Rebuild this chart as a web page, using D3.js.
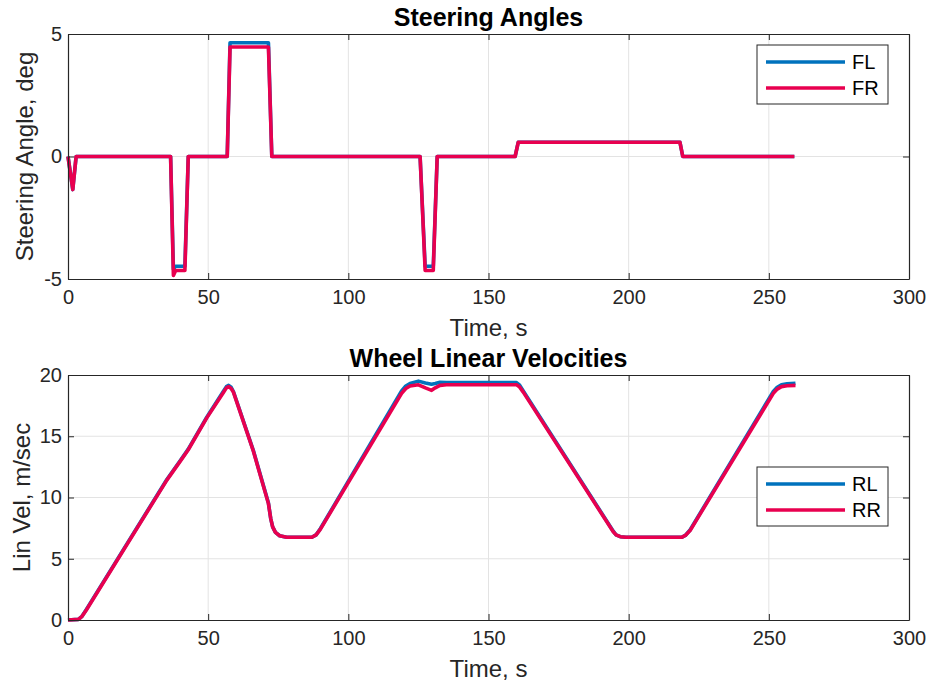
<!DOCTYPE html>
<html>
<head>
<meta charset="utf-8">
<script src="https://cdn.jsdelivr.net/npm/d3@7"></script>
<style>
  body { margin: 0; background: #fff; }
  svg { display: block; font-family: "Liberation Sans", Arial, sans-serif; }
</style>
</head>
<body>
<div id="chart"></div>
<script>
// steering angles (deg)
var steerT  = [0, 1.7, 2.9, 36.6, 37.6, 38.4, 41.7, 42.9, 56.8, 57.8, 71.5, 72.7, 125.6, 127.4, 130.3, 131.7, 159.5, 160.6, 218.3, 219.3, 259.1];
var steerFL = [0, -1.35, 0, 0, -4.6, -4.48, -4.48, 0, 0, 4.64, 4.64, 0, 0, -4.48, -4.48, 0, 0, 0.58, 0.58, 0, 0];
var steerFR = [0, -1.35, 0, 0, -4.86, -4.65, -4.65, 0, 0, 4.47, 4.47, 0, 0, -4.65, -4.65, 0, 0, 0.58, 0.58, 0, 0];

// wheel linear velocities (m/sec)
var velT  = [0, 3.7, 5, 6.5, 35.2, 40, 42.9, 49.5, 55.5, 56.5, 57.3, 58.2, 59, 66.1, 71.5, 72.3, 73, 74, 75.5, 78, 87, 88.5, 90,
             119, 120.5, 122, 125, 127.5, 129.7, 131, 132.7, 135, 160, 161, 162.4, 194.5, 195.5, 197, 199, 218.9, 220.2, 221.9,
             251.6, 253, 254.5, 256.5, 259.5];
var velRL = [0, 0.05, 0.3, 0.85, 11.45, 13.0, 13.95, 16.55, 18.7, 19.05, 19.15, 19.0, 18.65, 13.85, 9.55, 8.3, 7.6, 7.15, 6.88, 6.75, 6.75, 6.95, 7.45,
             18.7, 19.1, 19.3, 19.5, 19.35, 19.25, 19.3, 19.4, 19.38, 19.38, 19.2, 18.7, 7.25, 6.95, 6.8, 6.75, 6.75, 6.9, 7.35,
             18.65, 19.0, 19.2, 19.28, 19.32];
var velRR = [0, 0.05, 0.3, 0.8, 11.4, 12.95, 13.9, 16.5, 18.6, 18.95, 19.05, 18.9, 18.6, 13.8, 9.5, 8.3, 7.6, 7.15, 6.88, 6.75, 6.75, 6.95, 7.4,
             18.5, 18.9, 19.1, 19.2, 18.95, 18.75, 18.95, 19.15, 19.2, 19.2, 19.05, 18.6, 7.2, 6.95, 6.8, 6.75, 6.75, 6.9, 7.3,
             18.5, 18.85, 19.05, 19.12, 19.15];

var xTicks = [0, 50, 100, 150, 200, 250, 300];
var steerTicks = [-5, 0, 5];
var velTicks = [0, 5, 10, 15, 20];

var W = 930, H = 683;
var left = 68, right = 909;
var blue = "#0072bd", red = "#e8004f", ink = "#262626", gridColor = "#e3e3e3";

var svg = d3.select("#chart").append("svg")
  .attr("width", W)
  .attr("height", H);

function zip(t, v) {
  return t.map(function (d, i) { return [d, v[i]]; });
}

function drawPanel(opt) {
  var x = d3.scaleLinear().domain([0, 300]).range([left, right]);
  var y = d3.scaleLinear().domain(opt.yDomain).range([opt.bottom, opt.top]);
  var g = svg.append("g");

  // grid
  g.append("g").selectAll("line")
    .data(xTicks.slice(1, -1))
    .enter().append("line")
    .attr("x1", x).attr("x2", x)
    .attr("y1", opt.top).attr("y2", opt.bottom)
    .attr("stroke", gridColor).attr("stroke-width", 1);
  g.append("g").selectAll("line")
    .data(opt.yTicks.slice(1, -1))
    .enter().append("line")
    .attr("y1", y).attr("y2", y)
    .attr("x1", left).attr("x2", right)
    .attr("stroke", gridColor).attr("stroke-width", 1);

  // series
  var line = d3.line()
    .x(function (d) { return x(d[0]); })
    .y(function (d) { return y(d[1]); });
  opt.series.forEach(function (s) {
    g.append("path")
      .datum(zip(opt.t, s.values))
      .attr("fill", "none")
      .attr("stroke", s.color)
      .attr("stroke-width", 3.6)
      .attr("stroke-linejoin", "round")
      .attr("d", line);
  });

  // axes, ticks inward on all four sides
  var fmt = function (d) { return String(d); };
  g.append("g")
    .attr("transform", "translate(0," + opt.bottom + ")")
    .call(d3.axisBottom(x).tickValues(xTicks).tickSizeInner(-6).tickSizeOuter(0).tickPadding(11).tickFormat(fmt));
  g.append("g")
    .attr("transform", "translate(0," + opt.top + ")")
    .call(d3.axisTop(x).tickValues(xTicks).tickSizeInner(-6).tickSizeOuter(0).tickFormat(""));
  g.append("g")
    .attr("transform", "translate(" + left + ",0)")
    .call(d3.axisLeft(y).tickValues(opt.yTicks).tickSizeInner(-6).tickSizeOuter(0).tickPadding(6).tickFormat(fmt));
  g.append("g")
    .attr("transform", "translate(" + right + ",0)")
    .call(d3.axisRight(y).tickValues(opt.yTicks).tickSizeInner(-6).tickSizeOuter(0).tickFormat(""));

  g.selectAll(".domain").attr("stroke", ink).attr("stroke-width", 1.2);
  g.selectAll(".tick line").attr("stroke", ink).attr("stroke-width", 1);
  g.selectAll(".tick text")
    .attr("fill", ink)
    .attr("font-size", "20px")
    .attr("font-family", "'Liberation Sans', Arial, sans-serif");

  // title and labels
  g.append("text")
    .attr("x", (left + right) / 2)
    .attr("y", opt.top - 8)
    .attr("text-anchor", "middle")
    .attr("font-size", "25px")
    .attr("font-weight", "bold")
    .attr("fill", "#000")
    .text(opt.title);
  g.append("text")
    .attr("x", (left + right) / 2)
    .attr("y", opt.bottom + 57)
    .attr("text-anchor", "middle")
    .attr("font-size", "24px")
    .attr("fill", ink)
    .text("Time, s");
  g.append("text")
    .attr("transform", "translate(" + opt.yLabelX + "," + ((opt.top + opt.bottom) / 2) + ") rotate(-90)")
    .attr("text-anchor", "middle")
    .attr("font-size", "24px")
    .attr("fill", ink)
    .text(opt.yLabel);

  // legend
  var lg = g.append("g").attr("transform", "translate(" + opt.legend[0] + "," + opt.legend[1] + ")");
  lg.append("rect")
    .attr("width", 131).attr("height", 59)
    .attr("fill", "#fff").attr("stroke", ink).attr("stroke-width", 1);
  opt.series.forEach(function (s, i) {
    var ly = 17 + i * 26;
    lg.append("line")
      .attr("x1", 9).attr("x2", 88)
      .attr("y1", ly).attr("y2", ly)
      .attr("stroke", s.color).attr("stroke-width", 3.6);
    lg.append("text")
      .attr("x", 95).attr("y", ly + 7)
      .attr("font-size", "20px")
      .attr("fill", "#000")
      .text(s.name);
  });
}

drawPanel({
  top: 34, bottom: 279,
  yDomain: [-5, 5], yTicks: steerTicks,
  t: steerT,
  series: [{ name: "FL", values: steerFL, color: blue }, { name: "FR", values: steerFR, color: red }],
  title: "Steering Angles",
  yLabel: "Steering Angle, deg", yLabelX: 33,
  legend: [757, 45]
});

drawPanel({
  top: 375, bottom: 620,
  yDomain: [0, 20], yTicks: velTicks,
  t: velT,
  series: [{ name: "RL", values: velRL, color: blue }, { name: "RR", values: velRR, color: red }],
  title: "Wheel Linear Velocities",
  yLabel: "Lin Vel, m/sec", yLabelX: 30,
  legend: [757, 467]
});
</script>
</body>
</html>
